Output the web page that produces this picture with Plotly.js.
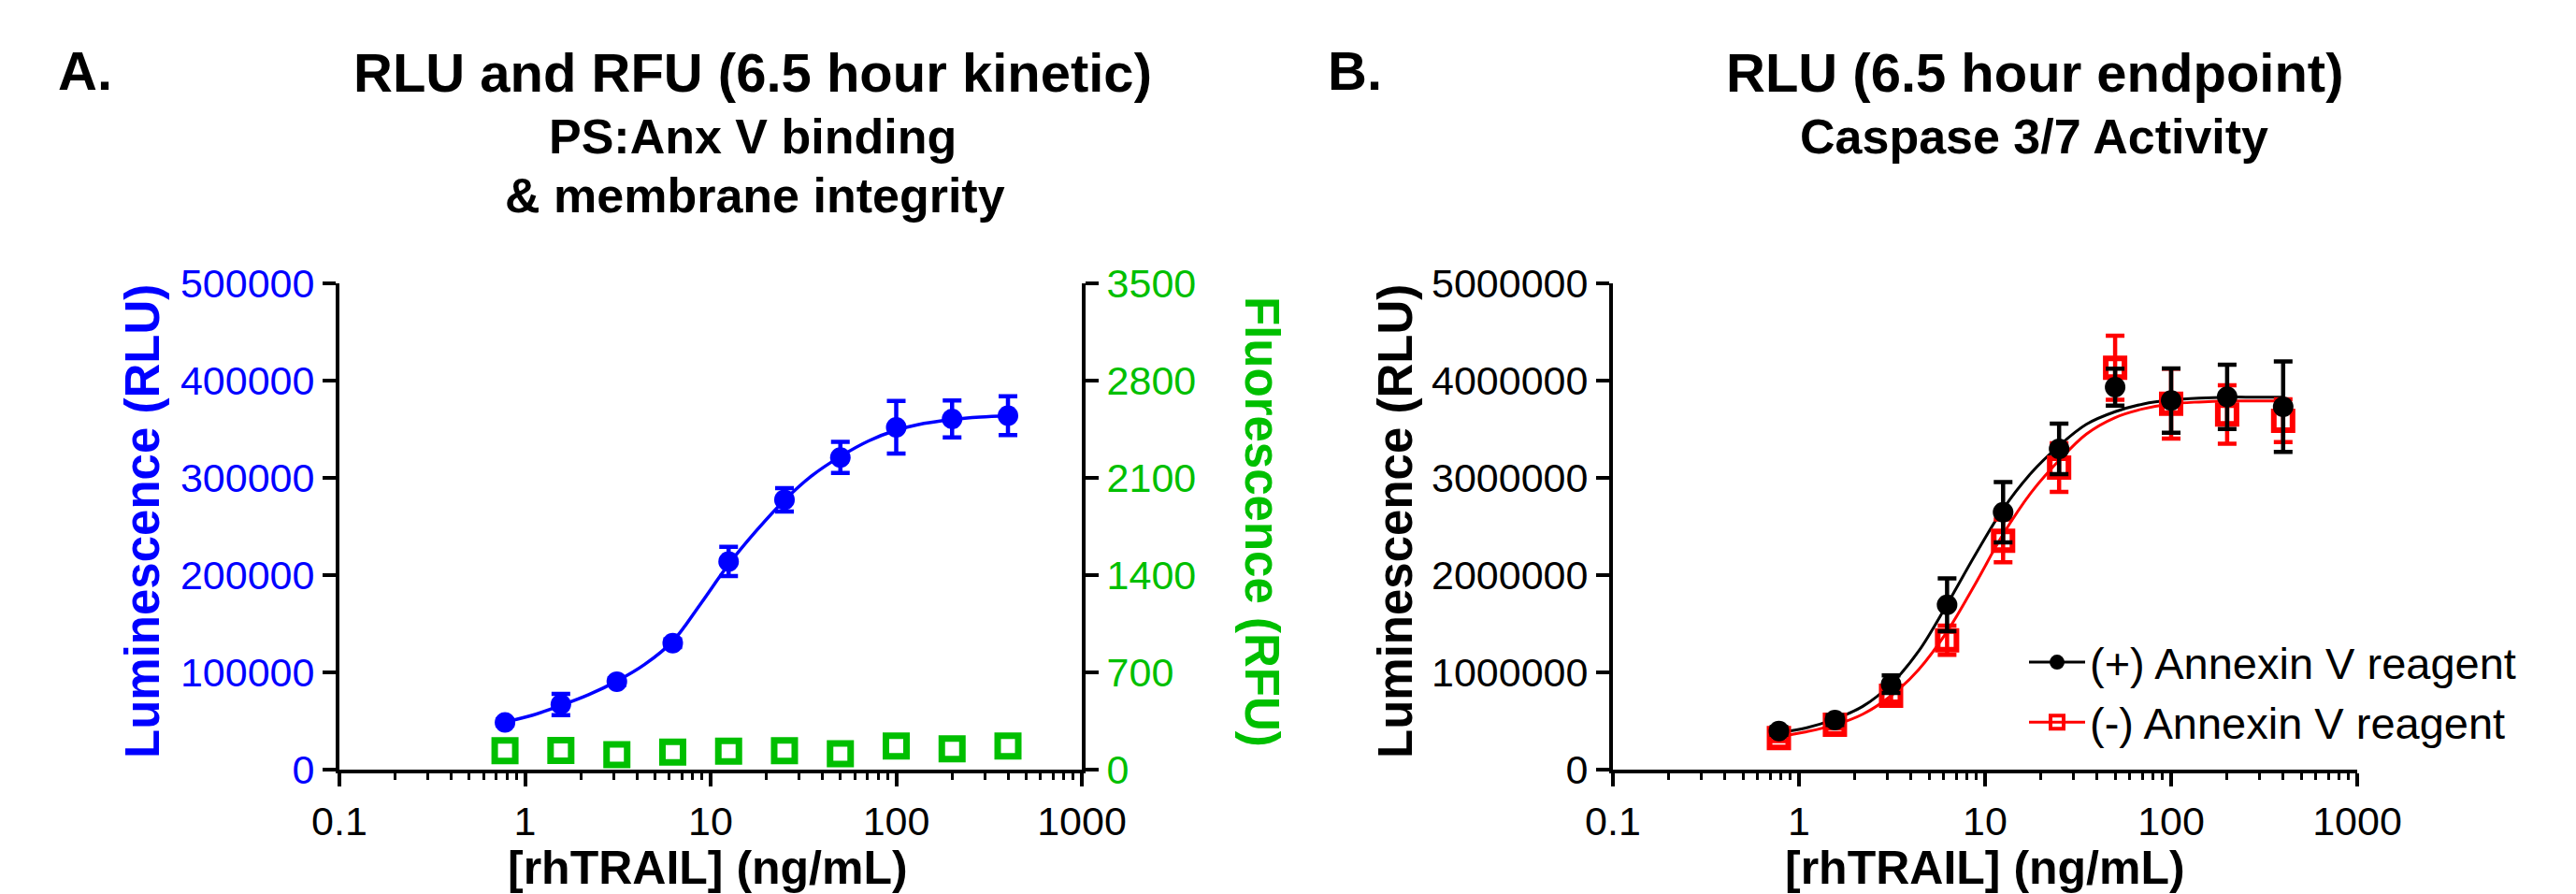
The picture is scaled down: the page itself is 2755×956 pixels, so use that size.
<!DOCTYPE html>
<html><head><meta charset="utf-8">
<script src="https://cdn.plot.ly/plotly-3.0.1.min.js"></script>
<style>html,body{margin:0;padding:0;background:#fff}#chart{width:2755px;height:956px}</style>
</head><body><div id="chart"></div>
<script>
// ---- data ----
const conc = [0.78, 1.56, 3.125, 6.25, 12.5, 25, 50, 100, 200, 400];
// Panel A: luminescence (RLU, left axis) and fluorescence (RFU, right axis)
const rluA    = [48500, 67000, 90500, 130000, 214000, 277500, 321000, 352000, 360500, 364000];
const rluAErr = [3000, 11000, 3500, 4000, 15000, 12000, 16000, 27000, 19000, 20000];
const rfuA    = [137, 138, 108, 126, 133, 136, 114, 170, 150, 170];
// fitted curves
const fitConc = [0.78, 1.1, 1.56, 2.2, 3.125, 4.4, 6.25, 8.8, 12.5, 17.7, 25, 35, 50, 71, 100, 141, 200, 283, 400];
const rluAFit = [49000, 56000, 66000, 77000, 91000, 108000, 132000, 170000, 211000, 246000, 277000, 302000, 322000, 338000, 349000, 356000, 360000, 362500, 364000];
// Panel B: caspase 3/7 endpoint
const plusB     = [397000, 510000, 878000, 1695000, 2647000, 3298000, 3933000, 3795000, 3833000, 3731000];
const plusBErr  = [40000, 50000, 90000, 272000, 310000, 260000, 190000, 330000, 330000, 465000];
const minusB    = [324000, 462000, 760000, 1330000, 2353000, 3106000, 4132000, 3763000, 3651000, 3587000];
const minusBErr = [30000, 40000, 60000, 150000, 220000, 250000, 330000, 360000, 300000, 220000];
const plusFit  = [380000, 430000, 520000, 650000, 880000, 1220000, 1700000, 2200000, 2680000, 3050000, 3330000, 3550000, 3680000, 3760000, 3800000, 3820000, 3830000, 3830000, 3830000];
const minusFit = [340000, 390000, 460000, 570000, 760000, 1030000, 1420000, 1900000, 2420000, 2850000, 3180000, 3450000, 3620000, 3710000, 3760000, 3780000, 3790000, 3790000, 3790000];
const xTickVals = [0.1, 1, 10, 100, 1000];
const xTickText = ['0.1', '1', '10', '100', '1000'];
const legendNames = ['(+) Annexin V reagent', '(-) Annexin V reagent'];

const BLUE = '#0000ff', GREEN = '#00bf00', RED = '#ff0000', BLACK = '#000000';
const W = 2755, H = 956;
const px = v => v / W, py = v => 1 - v / H;
const TICKF = 'Arial, "Liberation Sans", sans-serif';
const NARROW = '"Liberation Sans Narrow", "Arial Narrow", Arial, "Liberation Sans", sans-serif';

const traces = [
  {x: fitConc, y: rluAFit, xaxis: 'x', yaxis: 'y', mode: 'lines', line: {color: BLUE, width: 3.5, shape: 'spline'}, showlegend: false, hoverinfo: 'skip'},
  {x: conc, y: rluA, xaxis: 'x', yaxis: 'y', mode: 'markers', cliponaxis: false,
   marker: {symbol: 'circle', size: 22, color: BLUE},
   error_y: {type: 'data', array: rluAErr, visible: true, color: BLUE, thickness: 4.5, width: 10}, showlegend: false},
  {x: conc, y: rfuA, xaxis: 'x', yaxis: 'y2', mode: 'markers', cliponaxis: false,
   marker: {symbol: 'square-open', size: 22, color: GREEN, line: {width: 7, color: GREEN}}, showlegend: false},
  {x: fitConc, y: plusFit, xaxis: 'x2', yaxis: 'y3', mode: 'lines', line: {color: BLACK, width: 3, shape: 'spline'}, showlegend: false, hoverinfo: 'skip'},
  {x: fitConc, y: minusFit, xaxis: 'x2', yaxis: 'y3', mode: 'lines', line: {color: RED, width: 3, shape: 'spline'}, showlegend: false, hoverinfo: 'skip'},
  {x: conc, y: minusB, xaxis: 'x2', yaxis: 'y3', mode: 'markers', cliponaxis: false,
   marker: {symbol: 'square-open', size: 20, color: RED, line: {width: 6, color: RED}},
   error_y: {type: 'data', array: minusBErr, visible: true, color: RED, thickness: 4.5, width: 10}, showlegend: false},
  {x: conc, y: plusB, xaxis: 'x2', yaxis: 'y3', mode: 'markers', cliponaxis: false,
   marker: {symbol: 'circle', size: 22, color: BLACK},
   error_y: {type: 'data', array: plusBErr, visible: true, color: BLACK, thickness: 4.5, width: 10}, showlegend: false},
  // legend entries
  {x: [null], y: [null], xaxis: 'x2', yaxis: 'y3', mode: 'lines+markers', name: legendNames[0],
   line: {color: BLACK, width: 3}, marker: {symbol: 'circle', size: 16, color: BLACK}},
  {x: [null], y: [null], xaxis: 'x2', yaxis: 'y3', mode: 'lines+markers', name: legendNames[1],
   line: {color: RED, width: 3}, marker: {symbol: 'square-open', size: 14, color: RED, line: {width: 4, color: RED}}}
];

const yDom = [1 - 823 / H, 1 - 303 / H];
const baseX = {
  type: 'log', range: [-1, 3], tickmode: 'array', tickvals: xTickVals, ticktext: xTickText,
  showline: true, linewidth: 4, linecolor: BLACK, ticks: 'outside', ticklen: 14, tickwidth: 4, tickcolor: BLACK,
  tickfont: {family: TICKF, size: 43, color: BLACK}, showgrid: false, zeroline: false,
  minor: {ticks: 'outside', ticklen: 7, tickwidth: 3, tickcolor: BLACK, dtick: 'D1', showgrid: false}
};
const baseY = {
  showline: true, linewidth: 4, linecolor: BLACK, ticks: 'outside', ticklen: 14, tickwidth: 4, tickcolor: BLACK,
  showgrid: false, zeroline: false, tickformat: 'd', domain: yDom
};

const layout = {
  width: W, height: H, margin: {l: 0, r: 0, t: 0, b: 0}, paper_bgcolor: '#fff', plot_bgcolor: 'rgba(0,0,0,0)',
  showlegend: true,
  legend: {x: px(2165), y: py(671), xanchor: 'left', yanchor: 'top', bgcolor: 'rgba(0,0,0,0)',
           font: {family: TICKF, size: 47, color: BLACK}, tracegroupgap: 0, itemwidth: 60},
  xaxis: Object.assign({}, baseX, {domain: [px(363), px(1157)], anchor: 'y'}),
  xaxis2: Object.assign({}, baseX, {domain: [px(1725), px(2521)], anchor: 'y3'}),
  yaxis: Object.assign({}, baseY, {anchor: 'x', range: [0, 500000], dtick: 100000, tickfont: {family: TICKF, size: 43, color: BLUE}}),
  yaxis2: Object.assign({}, baseY, {anchor: 'x', overlaying: 'y', side: 'right', range: [0, 3500], dtick: 700, tickfont: {family: TICKF, size: 43, color: GREEN}}),
  yaxis3: Object.assign({}, baseY, {anchor: 'x2', range: [0, 5000000], dtick: 1000000, tickfont: {family: TICKF, size: 43, color: BLACK}}),
  annotations: [
    {text: '<b>A.</b>', xref: 'paper', yref: 'paper', x: px(60), y: py(75), xanchor: 'left', yanchor: 'middle', showarrow: false, font: {family: TICKF, size: 58, color: BLACK}},
    {text: '<b>B.</b>', xref: 'paper', yref: 'paper', x: px(1418), y: py(75), xanchor: 'left', yanchor: 'middle', showarrow: false, font: {family: TICKF, size: 58, color: BLACK}},
    {text: '<b>RLU and RFU (6.5 hour kinetic)</b>', xref: 'paper', yref: 'paper', x: px(805), y: py(77), xanchor: 'center', yanchor: 'middle', showarrow: false, font: {family: NARROW, size: 58, color: BLACK}},
    {text: '<b>PS:Anx V binding</b>', xref: 'paper', yref: 'paper', x: px(805), y: py(146), xanchor: 'center', yanchor: 'middle', showarrow: false, font: {family: NARROW, size: 52, color: BLACK}},
    {text: '<b>& membrane integrity</b>', xref: 'paper', yref: 'paper', x: px(807), y: py(209), xanchor: 'center', yanchor: 'middle', showarrow: false, font: {family: NARROW, size: 52, color: BLACK}},
    {text: '<b>RLU (6.5 hour endpoint)</b>', xref: 'paper', yref: 'paper', x: px(2176), y: py(77), xanchor: 'center', yanchor: 'middle', showarrow: false, font: {family: NARROW, size: 58, color: BLACK}},
    {text: '<b>Caspase 3/7 Activity</b>', xref: 'paper', yref: 'paper', x: px(2175), y: py(146), xanchor: 'center', yanchor: 'middle', showarrow: false, font: {family: NARROW, size: 52, color: BLACK}},
    {text: '<b>[rhTRAIL] (ng/mL)</b>', xref: 'paper', yref: 'paper', x: px(757), y: py(958), xanchor: 'center', yanchor: 'bottom', showarrow: false, font: {family: NARROW, size: 50, color: BLACK}},
    {text: '<b>[rhTRAIL] (ng/mL)</b>', xref: 'paper', yref: 'paper', x: px(2123), y: py(958), xanchor: 'center', yanchor: 'bottom', showarrow: false, font: {family: NARROW, size: 50, color: BLACK}},
    {text: '<b>Luminescence (RLU)</b>', xref: 'paper', yref: 'paper', x: px(152), y: py(558), xanchor: 'center', yanchor: 'middle', textangle: -90, showarrow: false, font: {family: TICKF, size: 51, color: BLUE}},
    {text: '<b>Fluorescence (RFU)</b>', xref: 'paper', yref: 'paper', x: px(1350), y: py(558), xanchor: 'center', yanchor: 'middle', textangle: 90, showarrow: false, font: {family: TICKF, size: 51, color: GREEN}},
    {text: '<b>Luminescence (RLU)</b>', xref: 'paper', yref: 'paper', x: px(1492), y: py(558), xanchor: 'center', yanchor: 'middle', textangle: -90, showarrow: false, font: {family: TICKF, size: 51, color: BLACK}}
  ]
};

Plotly.newPlot('chart', traces, layout, {displayModeBar: false, staticPlot: true});
</script></body></html>
